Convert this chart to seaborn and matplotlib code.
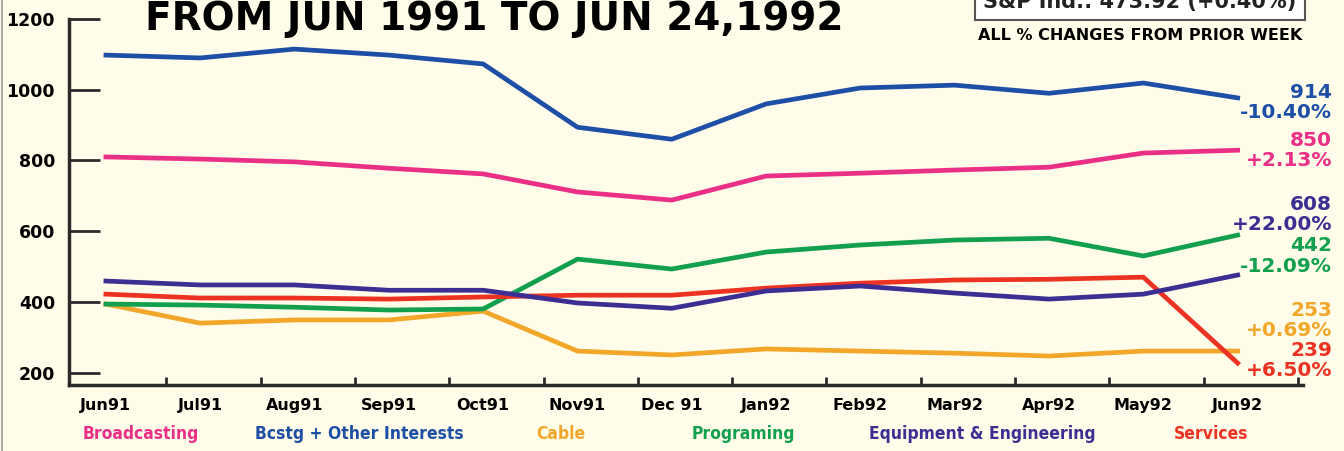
import numpy as np
import pandas as pd
import matplotlib.pyplot as plt
import seaborn as sns

sns.set_style(
    {
        "axes.edgecolor": "#2b2b2b",
        "axes.facecolor": "#fffde9",
        "figure.facecolor": "#fffde9",
        "axes.grid": False,
        "axes.spines.right": False,
        "axes.spines.top": False,
        "xtick.direction": "in",
        "ytick.direction": "in",
        "text.color": "black",
    }
)
plt.rcParams['font.family'] = ['DejaVu Sans']

months = ['Jun91', 'Jul91', 'Aug91', 'Sep91', 'Oct91', 'Nov91', 'Dec 91',
          'Jan92', 'Feb92', 'Mar92', 'Apr92', 'May92', 'Jun92']
broadcasting = [810, 804, 796, 778, 762, 711, 688, 756, 764, 773, 781, 821, 829]
bcstg_other = [1098, 1090, 1115, 1098, 1073, 894, 860, 960, 1005, 1013, 990, 1019, 977]
cable = [394, 340, 349, 349, 374, 261, 250, 267, 261, 255, 247, 261, 261]
programing = [394, 391, 385, 377, 380, 521, 493, 541, 561, 575, 580, 530, 589]
equipment = [459, 448, 448, 433, 433, 397, 382, 431, 445, 425, 408, 422, 476]
services = [422, 411, 411, 408, 414, 419, 419, 439, 453, 462, 464, 470, 227]

series_names = ['Broadcasting', 'Bcstg + Other Interests', 'Cable', 'Programing',
                'Equipment & Engineering', 'Services']
colors = ['#ea2f86', '#1d4fa6', '#f3a72a', '#12a04e', '#3c2e92', '#ec3323']
end_values = ['850', '914', '253', '442', '608', '239']
end_changes = ['+2.13%', '-10.40%', '+0.69%', '-12.09%', '+22.00%', '+6.50%']

df = pd.DataFrame({
    'x': np.tile(np.arange(len(months)), 6),
    'value': broadcasting + bcstg_other + cable + programing + equipment + services,
    'series': np.repeat(series_names, len(months)),
})

fig = plt.figure(figsize=(13.44, 4.51), dpi=100)
ax = fig.add_axes([0.0513, 0.1463, 0.918, 0.8115])

# lower lines first, blue on top
order = ['Cable', 'Programing', 'Services', 'Equipment & Engineering', 'Broadcasting',
         'Bcstg + Other Interests']
for name in order:
    sub = df[df['series'] == name]
    sns.lineplot(data=sub, x='x', y='value', color=colors[series_names.index(name)],
                 linewidth=3.4, ax=ax, legend=False, solid_joinstyle='round')

ax.set_xlim(-0.392, 12.69)
ax.set_ylim(165, 1200)
ax.set_xlabel('')
ax.set_ylabel('')

ax.set_yticks([200, 400, 600, 800, 1000, 1200])
ax.tick_params(axis='y', length=22, width=2, color='#2b2b2b', pad=10,
               labelsize=12.5)
for lab in ax.get_yticklabels():
    lab.set_fontweight('bold')

ax.set_xticks(np.arange(len(months)))
ax.set_xticklabels(months, fontsize=11.5, fontweight='bold')
ax.tick_params(axis='x', which='major', length=0, pad=9)
ax.set_xticks(np.arange(len(months)) + 0.64, minor=True)
ax.tick_params(axis='x', which='minor', length=6, width=2, color='#2b2b2b')

for sp in ['left', 'bottom']:
    ax.spines[sp].set_linewidth(2.5)

# thin border line at the far left
fig.add_artist(plt.Line2D([0.0015, 0.0015], [0, 1], color='#9a9a9a', lw=1.2))

# title
fig.text(0.108, 1 - 30 / 451, 'FROM JUN 1991 TO JUN 24,1992', fontsize=28,
         fontweight='heavy', ha='left', va='baseline')

# box at top right (cut by the top edge as in the source)
fig.text(1140 / 1344, 1 - 2 / 451, 'S&P Ind.: 473.92 (+0.40%)', fontsize=15,
         fontweight='bold', ha='center', va='center', color='#222222',
         bbox=dict(boxstyle='square,pad=0.4', fc='white', ec='#555555', lw=1.5))
fig.text(1140 / 1344, 1 - 35 / 451, 'ALL % CHANGES FROM PRIOR WEEK', fontsize=11.5,
         fontweight='bold', ha='center', va='center')

# end labels
label_y = {'Bcstg + Other Interests': (93, 113), 'Broadcasting': (140, 160),
           'Equipment & Engineering': (204, 224), 'Programing': (246, 266),
           'Cable': (311, 330), 'Services': (350, 370)}
for name, (y1, y2) in label_y.items():
    i = series_names.index(name)
    c = colors[i]
    fig.text(0.991, 1 - y1 / 451, end_values[i], fontsize=14.5, fontweight='bold',
             color=c, ha='right', va='center')
    fig.text(0.991, 1 - y2 / 451, end_changes[i], fontsize=14.5, fontweight='bold',
             color=c, ha='right', va='center')

# bottom legend
legend_x = [141, 359, 561, 743, 982, 1211]
for name, lx in zip(series_names, legend_x):
    fig.text(lx / 1344, 1 - 434 / 451, name, fontsize=12.5, fontweight='bold',
             color=colors[series_names.index(name)], ha='center', va='center',
             fontstretch='condensed', family=['Liberation Sans Narrow', 'DejaVu Sans'])

fig.savefig('out.png', dpi=100, facecolor=fig.get_facecolor())
